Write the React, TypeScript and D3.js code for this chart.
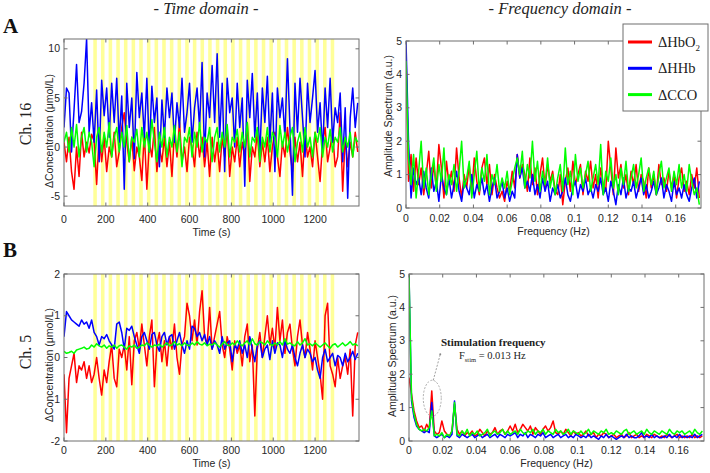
import React from 'react';
import * as d3 from 'd3';

// ---------- DATA ----------
const timeStep = 12; // s
const freqStep = 0.0015; // Hz
const timeTicks = [0, 200, 400, 600, 800, 1000, 1200];
const freqTicks = [0, 0.02, 0.04, 0.06, 0.08, 0.1, 0.12, 0.14, 0.16];
const yTicksTimeA = [-5, 0, 5, 10];
const yTicksTimeB = [-2, -1, 0, 1, 2];
const yTicksFreq = [0, 1, 2, 3, 4, 5];

// stimulation blocks (s)
const stimOnset = 140;
const stimPeriod = 36.6;
const stimDuration = 17;
const stimCount = 32;

// Ch.16 time domain
const hbo2TimeA = [
  0.5, -1.5, 1.0, -2.5, -4.3, 0.0, -3.0, 1.5, -1.0, 0.5,
  -0.6, 1.3, 0.6, -3.8, 1.2, -1.5, 1.0, -2.5, 0.0, -1.0,
  1.5, -2.0, -0.5, 2.0, 3.5, 0.5, -1.5, 1.0, -2.4, 0.0,
  -1.0, -3.4, 1.5, -4.3, 0.5, -1.0, 2.0, -2.5, 0.0, -1.5,
  1.0, -2.0, 0.5, -3.0, 1.5, -1.0, 2.5, -1.5, 0.0, -2.5,
  1.0, 0.0, -2.0, 1.5, -1.0, 1.0, -2.0, 0.5, -3.0, 1.0,
  -1.5, 0.5, -2.5, 1.0, -1.0, 2.0, -3.0, 0.0, -1.5, 1.0,
  -2.0, 0.5, -1.0, 2.5, -3.5, 0.0, -1.0, 1.5, -2.0, 0.5,
  -1.5, 1.0, -2.5, 0.0, 1.5, -1.0, -3.0, 0.5, -1.0, 2.0,
  -0.5, -2.5, 1.0, -1.5, 0.5, -3.0, 1.5, -1.0, 0.0, -2.0,
  1.5, -1.0, -3.5, 0.5, 2.0, -1.5, 0.0, 1.5, -2.0, -1.0,
  3.5, -4.5, 1.0, -2.0, 0.5, -1.0, 1.5, -0.5,
];
const hhbTimeA = [
  2.0, 6.0, 5.5, -0.5, 3.8, 8.4, 2.5, 3.6, 6.5, 11.0,
  1.5, 4.5, 0.5, 5.8, -1.5, 6.8, 3.2, 6.0, 1.0, 6.5,
  2.5, 7.0, 0.5, 5.2, -4.3, 6.5, 2.0, 5.0, -1.2, 7.6,
  3.0, 5.5, 1.0, 7.0, -0.5, 6.2, 2.5, 5.0, -2.0, 4.8,
  1.0, 6.0, 3.0, 5.5, 0.5, 4.5, 2.0, 7.0, 1.5, 3.5,
  6.5, 0.5, 4.0, 6.0, 2.0, 8.6, -1.0, 5.5, 3.0, 8.3,
  2.5, 9.5, 1.0, 6.5, -2.5, 7.0, 3.5, 5.0, 0.0, 6.5,
  2.0, 5.0, -4.0, 6.8, 3.0, 7.5, 1.0, 5.5, -1.0, 6.0,
  2.5, 7.2, 0.5, 5.5, -2.5, 6.0, 3.0, 5.0, 1.0, 9.0,
  2.0, -4.9, 6.5, 1.5, 7.0, 3.0, -1.0, 6.5, 2.5, 5.0,
  7.8, 1.5, 4.5, -0.5, 6.0, 2.0, 7.0, 0.5, 4.0, 2.5,
  5.5, -1.5, 4.0, -5.2, 3.0, 6.0, 2.0, 4.5,
];
const ccoTimeA = [
  0.5, 1.5, -0.5, 2.0, 0.0, 2.3, -1.0, 1.0, 2.0, -0.5,
  1.5, 0.5, -2.0, 1.0, 2.0, -0.5, 1.5, 0.0, 2.5, -1.0,
  1.0, 2.0, -0.5, 1.5, 0.0, 2.2, -1.5, 1.0, 0.5, 1.8,
  -1.0, 2.0, 0.0, 1.5, -0.5, 2.8, 0.5, -1.5, 1.5, 0.0,
  2.0, -1.0, 1.0, 0.0, 2.2, -0.5, 1.5, -2.0, 1.0, 0.5,
  2.0, -1.0, 1.5, 0.0, 2.5, -0.5, 1.0, 0.5, 2.0, -1.5,
  1.0, 2.0, -0.5, 1.5, 0.0, 2.3, -1.0, 1.0, 0.5, 1.8,
  -0.5, 1.5, 0.0, 2.5, -1.0, 1.0, 0.5, 2.0, -1.5, 1.0,
  0.0, 2.0, -0.5, 1.5, 1.0, -1.0, 2.2, 0.0, 1.5, -0.5,
  1.0, 2.0, -1.5, 0.5, 1.5, -0.5, 2.0, 0.0, 1.0, -1.0,
  1.5, 0.5, 2.0, -1.0, 1.0, 0.0, 1.8, -0.5, 1.0, 0.5,
  2.0, -0.5, 1.0, 0.0, 1.5, -1.0, 1.0, 0.5,
];

// Ch.5 time domain
const hbo2TimeB = [
  -0.4, -1.8, -0.5, -0.2, 0.1, -0.6, -0.2, -0.3, -0.1, -0.5,
  -0.2, -0.6, -0.4, 0.0, -0.5, -0.9, -0.3, -0.6, -0.1, 0.3,
  -0.5, -0.7, 0.2, 0.0, 0.3, -0.3, 0.5, -0.65, 0.4, 0.6,
  0.2, 0.8, 0.3, -0.2, 0.5, 0.9, -0.7, 0.3, 0.6, -0.1,
  0.4, -0.2, 0.5, 0.2, 0.8, 0.0, -0.4, 0.3, 0.5, 1.3,
  1.0, 0.4, 0.9, 0.3, 1.1, 1.6, 0.5, 0.3, 1.2, 0.2,
  0.5, 0.8, 1.1, 0.3, 0.0, 0.5, 0.2, -0.3, 0.4, 0.1,
  0.3, -0.2, 0.5, 0.8, -0.1, 0.3, -1.4, 0.2, 0.6, 0.0,
  0.5, 1.0, 0.3, 0.7, 0.2, 1.2, 0.4, 0.9, 0.1, 0.6,
  0.8, 0.2, -0.2, 0.5, 0.9, 0.3, 0.0, 0.6, 0.2, -0.3,
  0.4, 0.0, -0.4, -1.0, 1.0, 1.3, -0.2, -0.4, -0.7, 0.0,
  -0.5, -0.2, 0.0, -0.4, 0.2, -1.4, 0.3, 0.6,
];
const hhbTimeB = [
  0.5, 1.1, 1.0, 0.9, 0.85, 0.8, 0.75, 0.9, 0.8, 0.85,
  0.7, 0.9, 0.6, 0.5, 0.3, 0.5, 0.45, 0.55, 0.4, 0.3,
  0.2, 0.8, 0.85, 0.6, 0.2, 0.7, 0.65, 0.75, 0.5, 0.3,
  0.1, 0.5, 0.6, 0.4, 0.2, 0.55, 0.6, 0.3, 0.15, 0.5,
  0.6, 0.3, 0.5, 0.55, 0.2, 0.4, 0.6, 0.3, 0.1, 0.4,
  0.2, 0.75, 0.7, 0.5, 0.6, 0.4, 0.55, 0.3, 0.5, 0.2,
  0.4, 0.3, 0.1, 0.5, 0.2, 0.35, 0.4, -0.1, 0.3, 0.2,
  0.4, 0.1, 0.3, 0.0, 0.5, 0.2, -0.1, 0.3, 0.4, 0.0,
  0.2, 0.3, -0.05, 0.4, 0.1, 0.35, 0.3, 0.0, 0.4, 0.2,
  0.1, 0.3, 0.0, -0.2, 0.1, 0.3, 0.0, 0.2, 0.1, -0.1,
  0.0, -0.3, -0.5, 0.0, 0.2, -0.1, 0.0, 0.1, -0.2, 0.05,
  0.0, -0.2, 0.1, -0.1, 0.0, 0.15, -0.05, 0.1,
];
const ccoTimeB = [
  0.15, 0.1, 0.12, 0.15, 0.1, 0.18, 0.2, 0.22, 0.25, 0.2,
  0.22, 0.3, 0.25, 0.33, 0.28, 0.25, 0.3, 0.22, 0.28, 0.25,
  0.3, 0.22, 0.28, 0.3, 0.25, 0.2, 0.28, 0.25, 0.3, 0.22,
  0.25, 0.3, 0.28, 0.35, 0.3, 0.25, 0.3, 0.28, 0.32, 0.25,
  0.3, 0.35, 0.28, 0.3, 0.38, 0.3, 0.33, 0.28, 0.35, 0.3,
  0.28, 0.35, 0.3, 0.38, 0.32, 0.3, 0.35, 0.28, 0.32, 0.3,
  0.35, 0.3, 0.25, 0.32, 0.38, 0.3, 0.28, 0.35, 0.3, 0.4,
  0.32, 0.28, 0.35, 0.4, 0.3, 0.45, 0.33, 0.3, 0.38, 0.35,
  0.3, 0.4, 0.33, 0.28, 0.35, 0.3, 0.38, 0.3, 0.45, 0.32,
  0.35, 0.3, 0.28, 0.38, 0.3, 0.35, 0.45, 0.3, 0.33, 0.28,
  0.35, 0.3, 0.25, 0.3, 0.35, 0.28, 0.22, 0.3, 0.33, 0.25,
  0.3, 0.35, 0.28, 0.32, 0.38, 0.3, 0.33, 0.28,
];

// Ch.16 frequency domain
const hbo2FreqA = [
  4.7, 0.8, 1.6, 0.5, 1.5, 0.7, 1.2, 0.4, 1.0, 1.7,
  0.6, 1.3, 0.6, 1.9, 1.2, 0.3, 1.4, 0.7, 1.1, 0.5,
  1.8, 0.9, 0.3, 1.0, 0.6, 1.3, 0.5, 1.5, 0.8, 0.4,
  1.2, 1.5, 0.7, 1.3, 0.4, 1.0, 0.6, 0.3, 0.5, 0.2,
  0.8, 0.5, 1.1, 0.6, 1.6, 0.9, 1.3, 1.0, 0.5, 1.5,
  0.7, 1.2, 0.4, 1.0, 1.5, 0.6, 1.3, 0.8, 1.1, 0.5,
  0.4, 1.0, 0.1, 0.8, 1.2, 0.5, 1.4, 0.7, 1.0, 1.3,
  0.4, 1.1, 0.8, 1.4, 0.6, 1.0, 0.3, 1.2, 0.7, 0.5,
  2.0, 1.2, 0.4, 1.8, 0.9, 1.3, 0.6, 1.0, 0.4, 1.1,
  0.7, 1.3, 0.5, 1.0, 0.8, 0.3, 1.2, 0.6, 1.0, 0.4,
  1.3, 0.7, 0.9, 0.5, 1.1, 0.6, 1.0, 0.3, 0.9, 1.2,
  0.5, 0.8, 0.4, 1.0, 0.6, 1.2, 0.3,
];
const hhbFreqA = [
  5.0, 2.0, 0.3, 1.2, 0.7, 0.9, 0.4, 1.1, 0.6, 0.3,
  1.2, 0.5, 0.8, 0.2, 1.0, 0.6, 0.4, 0.9, 0.3, 0.7,
  1.1, 0.5, 0.2, 0.8, 0.6, 0.4, 1.0, 0.3, 0.7, 0.5,
  0.9, 0.4, 0.7, 0.2, 0.6, 0.9, 0.3, 0.5, 0.8, 0.3,
  0.6, 0.2, 0.5, 0.3, 1.6, 0.9, 1.2, 0.6, 0.8, 0.5,
  1.0, 0.4, 0.7, 0.3, 0.9, 0.5, 0.8, 0.2, 0.6, 0.4,
  0.7, 0.3, 0.5, 0.9, 0.4, 0.2, 0.6, 0.8, 0.3, 0.7,
  0.5, 0.9, 0.4, 0.6, 0.3, 0.7, 0.5, 0.9, 0.4, 0.6,
  0.2, 0.8, 0.5, 0.1, 0.7, 0.4, 0.9, 0.3, 0.6, 0.5,
  0.8, 0.3, 0.6, 0.9, 0.4, 0.7, 0.3, 0.5, 0.8, 0.4,
  0.6, 0.9, 0.3, 0.7, 0.5, 0.2, 0.8, 0.4, 0.6, 0.3,
  0.7, 0.4, 0.2, 0.6, 0.9, 0.3, 0.8,
];
const ccoFreqA = [
  4.4, 1.5, 0.7, 1.6, 0.3, 1.1, 2.0, 0.6, 1.2, 0.4,
  1.0, 1.5, 0.5, 1.3, 0.8, 1.8, 0.4, 1.0, 0.7, 1.3,
  0.5, 1.1, 2.0, 0.6, 0.9, 1.4, 0.3, 1.0, 1.7, 0.5,
  1.2, 0.8, 1.6, 0.4, 1.0, 0.7, 1.3, 0.5, 0.9, 0.6,
  1.1, 0.4, 0.8, 1.2, 1.5, 1.0, 1.7, 0.6, 1.3, 0.9,
  2.0, 0.8, 1.4, 0.5, 1.1, 0.7, 1.5, 0.6, 1.0, 0.4,
  0.9, 1.3, 0.5, 1.8, 0.7, 1.1, 0.4, 1.6, 0.8, 1.2,
  0.6, 1.0, 1.4, 0.5, 0.9, 1.3, 0.7, 1.9, 0.4, 1.1,
  0.8, 1.5, 0.6, 1.0, 0.4, 1.2, 0.7, 1.4, 0.5, 0.9,
  1.3, 0.6, 1.0, 1.5, 0.5, 0.9, 1.2, 0.7, 1.1, 0.4,
  1.0, 1.4, 0.6, 0.9, 1.2, 0.5, 1.1, 0.7, 1.3, 0.6,
  1.0, 0.5, 1.3, 0.8, 0.4, 0.6, 0.1,
];

// Ch.5 frequency domain
const hbo2FreqB = [
  1.9, 1.4, 0.9, 0.6, 0.4, 0.45, 0.3, 0.5, 0.35, 1.5,
  0.3, 0.2, 0.25, 0.6, 0.3, 0.2, 0.15, 0.3, 1.1, 0.35,
  0.2, 0.3, 0.15, 0.25, 0.2, 0.3, 0.15, 0.2, 0.35, 0.25,
  0.15, 0.3, 0.2, 0.25, 0.4, 0.2, 0.3, 0.35, 0.2, 0.3,
  0.45, 0.3, 0.5, 0.25, 0.35, 0.5, 0.4, 0.3, 0.45, 0.2,
  0.4, 0.3, 0.2, 0.35, 0.45, 0.3, 0.4, 0.6, 0.25, 0.2,
  0.3, 0.2, 0.35, 0.25, 0.15, 0.3, 0.2, 0.25, 0.15, 0.2,
  0.3, 0.15, 0.2, 0.25, 0.1, 0.2, 0.15, 0.25, 0.2, 0.1,
  0.15, 0.2, 0.1, 0.15, 0.2, 0.1, 0.15, 0.25, 0.1, 0.15,
  0.2, 0.1, 0.15, 0.1, 0.2, 0.15, 0.1, 0.2, 0.15, 0.1,
  0.15, 0.1, 0.2, 0.15, 0.1, 0.15, 0.2, 0.1, 0.15, 0.1,
  0.15, 0.1, 0.2, 0.1, 0.15, 0.1, 0.15,
];
const hhbFreqB = [
  5.0, 1.2, 0.7, 0.45, 0.35, 0.3, 0.25, 0.3, 0.25, 1.15,
  0.15, 0.1, 0.15, 0.2, 0.1, 0.15, 0.1, 0.2, 1.2, 0.15,
  0.1, 0.2, 0.15, 0.1, 0.15, 0.2, 0.1, 0.15, 0.2, 0.1,
  0.15, 0.2, 0.1, 0.15, 0.2, 0.1, 0.2, 0.15, 0.1, 0.2,
  0.15, 0.2, 0.25, 0.1, 0.2, 0.15, 0.25, 0.1, 0.2, 0.15,
  0.1, 0.2, 0.15, 0.25, 0.1, 0.15, 0.2, 0.1, 0.15, 0.2,
  0.1, 0.15, 0.2, 0.1, 0.15, 0.1, 0.2, 0.15, 0.1, 0.15,
  0.1, 0.2, 0.1, 0.15, 0.1, 0.05, 0.15, 0.1, 0.2, 0.1,
  0.15, 0.1, 0.05, 0.1, 0.15, 0.1, 0.2, 0.1, 0.15, 0.1,
  0.1, 0.15, 0.25, 0.1, 0.15, 0.1, 0.2, 0.1, 0.15, 0.1,
  0.1, 0.15, 0.1, 0.2, 0.1, 0.15, 0.1, 0.2, 0.1, 0.15,
  0.1, 0.15, 0.1, 0.2, 0.1, 0.15, 0.2,
];
const ccoFreqB = [
  5.0, 1.3, 0.8, 0.5, 0.35, 0.3, 0.35, 0.3, 0.4, 0.9,
  0.15, 0.2, 0.15, 0.25, 0.1, 0.2, 0.15, 0.3, 1.15, 0.2,
  0.15, 0.3, 0.2, 0.35, 0.15, 0.25, 0.2, 0.3, 0.15, 0.2,
  0.25, 0.35, 0.15, 0.25, 0.3, 0.2, 0.25, 0.35, 0.2, 0.3,
  0.2, 0.25, 0.3, 0.2, 0.35, 0.25, 0.2, 0.3, 0.25, 0.35,
  0.2, 0.3, 0.25, 0.35, 0.2, 0.3, 0.25, 0.2, 0.35, 0.25,
  0.3, 0.2, 0.25, 0.35, 0.2, 0.3, 0.25, 0.2, 0.3, 0.2,
  0.25, 0.35, 0.2, 0.3, 0.25, 0.2, 0.3, 0.25, 0.35, 0.2,
  0.25, 0.2, 0.3, 0.25, 0.2, 0.3, 0.35, 0.2, 0.25, 0.3,
  0.2, 0.25, 0.3, 0.2, 0.35, 0.25, 0.2, 0.3, 0.25, 0.2,
  0.3, 0.25, 0.2, 0.35, 0.25, 0.2, 0.3, 0.25, 0.3, 0.2,
  0.25, 0.3, 0.2, 0.35, 0.25, 0.2, 0.3,
];

const seriesNames = ['ΔHbO', 'ΔHHb', 'ΔCCO'];
const seriesColors = ['#ff0000', '#0000ff', '#00ff00'];

// ---------- DRAWING ----------
const SANS = "'Liberation Sans', Arial, sans-serif";
const SERIF = "'Liberation Serif', 'Times New Roman', serif";
const FRAME = '#6e6e6e';
const TXT = '#262626';

type PanelProps = {
  id: string;
  left: number; right: number; top: number; bottom: number;
  xDomain: [number, number]; yDomain: [number, number];
  xTicks: number[]; yTicks: number[];
  step: number;
  series: number[][];
  xLabel: string; yLabel: string;
  yLabelY: number; yLabelX: number;
  tickBaseline: number; xLabelBaseline: number;
  stim?: boolean;
  children?: (x: d3.ScaleLinear<number, number>, y: d3.ScaleLinear<number, number>) => React.ReactNode;
};

function Panel(p: PanelProps) {
  const x = d3.scaleLinear().domain(p.xDomain).range([p.left, p.right]);
  const y = d3.scaleLinear().domain(p.yDomain).range([p.bottom, p.top]);
  const line = d3.line<number>().x((_, i) => x(i * p.step)).y((d) => y(d));
  const tl = 3.5;
  const stimStarts = d3.range(stimCount).map((k) => stimOnset + k * stimPeriod);
  return (
    <g>
      <defs>
        <clipPath id={`clip-${p.id}`}>
          <rect x={p.left} y={p.top} width={p.right - p.left} height={p.bottom - p.top} />
        </clipPath>
      </defs>
      <rect x={p.left} y={p.top} width={p.right - p.left} height={p.bottom - p.top} fill="#fff" />
      {p.stim &&
        stimStarts.map((s, i) => (
          <rect key={i} x={x(s)} y={p.top} width={x(s + stimDuration) - x(s)} height={p.bottom - p.top} fill="#ffff99" />
        ))}
      <g clipPath={`url(#clip-${p.id})`}>
        {p.series.map((s, i) => (
          <path key={i} d={line(s) || ''} fill="none" stroke={seriesColors[i]} strokeWidth={1.5} strokeLinejoin="round" />
        ))}
      </g>
      {p.children && p.children(x, y)}
      {/* frame */}
      <rect x={p.left} y={p.top} width={p.right - p.left} height={p.bottom - p.top} fill="none" stroke={FRAME} strokeWidth={1} />
      {p.xTicks.map((t) => (
        <g key={'x' + t}>
          <line x1={x(t)} x2={x(t)} y1={p.bottom} y2={p.bottom - tl} stroke={FRAME} />
          <line x1={x(t)} x2={x(t)} y1={p.top} y2={p.top + tl} stroke={FRAME} />
          <text x={x(t)} y={p.tickBaseline} textAnchor="middle" fontFamily={SANS} fontSize={10.5} fill={TXT}>
            {String(t)}
          </text>
        </g>
      ))}
      {p.yTicks.map((t) => (
        <g key={'y' + t}>
          <line x1={p.left} x2={p.left + tl} y1={y(t)} y2={y(t)} stroke={FRAME} />
          <line x1={p.right} x2={p.right - tl} y1={y(t)} y2={y(t)} stroke={FRAME} />
          <text x={p.left - 4} y={y(t)} dy="0.35em" textAnchor="end" fontFamily={SANS} fontSize={10.5} fill={TXT}>
            {String(t)}
          </text>
        </g>
      ))}
      <text x={(p.left + p.right) / 2} y={p.xLabelBaseline} textAnchor="middle" fontFamily={SANS} fontSize={10.5} fill={TXT}>
        {p.xLabel}
      </text>
      <text
        transform={`translate(${p.yLabelX},${p.yLabelY}) rotate(-90)`}
        textAnchor="middle"
        dy="0.35em"
        fontFamily={SANS}
        fontSize={10.5}
        fill={TXT}
      >
        {p.yLabel}
      </text>
    </g>
  );
}

export default function App() {
  const timeDomain: [number, number] = [0, 1410];
  const freqDomain: [number, number] = [0, 0.175];
  return (
    <svg width={710} height={473} style={{ position: 'absolute', left: 0, top: 0, background: '#fff' }}>
      <rect width={710} height={473} fill="#fff" />
      {/* headers */}
      <text x={206} y={14} textAnchor="middle" fontFamily={SERIF} fontStyle="italic" fontSize={16.5} fill="#222">
        - Time domain -
      </text>
      <text x={560} y={14} textAnchor="middle" fontFamily={SERIF} fontStyle="italic" fontSize={16.5} fill="#222">
        - Frequency domain -
      </text>
      <text x={3} y={33} fontFamily={SERIF} fontWeight="bold" fontSize={21} fill="#111">A</text>
      <text x={3} y={257} fontFamily={SERIF} fontWeight="bold" fontSize={21} fill="#111">B</text>
      <text transform="translate(25,124) rotate(-90)" textAnchor="middle" dy="0.35em" fontFamily={SERIF} fontSize={16} fill="#222">
        Ch. 16
      </text>
      <text transform="translate(25,352) rotate(-90)" textAnchor="middle" dy="0.35em" fontFamily={SERIF} fontSize={16} fill="#222">
        Ch. 5
      </text>

      <Panel
        id="ta" left={64} right={359} top={39} bottom={206}
        xDomain={timeDomain} yDomain={[-6, 11]}
        xTicks={timeTicks} yTicks={yTicksTimeA} step={timeStep}
        series={[hbo2TimeA, hhbTimeA, ccoTimeA]}
        xLabel="Time (s)" yLabel="ΔConcentration (μmol/L)"
        yLabelX={49} yLabelY={131}
        tickBaseline={223} xLabelBaseline={236} stim
      />
      <Panel
        id="fa" left={406} right={701} top={41} bottom={208}
        xDomain={freqDomain} yDomain={[0, 5]}
        xTicks={freqTicks} yTicks={yTicksFreq} step={freqStep}
        series={[hbo2FreqA, hhbFreqA, ccoFreqA]}
        xLabel="Frequency (Hz)" yLabel="Amplitude Spectrum (a.u.)"
        yLabelX={388} yLabelY={116}
        tickBaseline={222} xLabelBaseline={235}
      />
      <Panel
        id="tb" left={64} right={359} top={274} bottom={441}
        xDomain={timeDomain} yDomain={[-2, 2]}
        xTicks={timeTicks} yTicks={yTicksTimeB} step={timeStep}
        series={[hbo2TimeB, hhbTimeB, ccoTimeB]}
        xLabel="Time (s)" yLabel="ΔConcentration (μmol/L)"
        yLabelX={49} yLabelY={365}
        tickBaseline={454} xLabelBaseline={467} stim
      />
      <Panel
        id="fb" left={409} right={704} top={274} bottom={441}
        xDomain={freqDomain} yDomain={[0, 5]}
        xTicks={freqTicks} yTicks={yTicksFreq} step={freqStep}
        series={[hbo2FreqB, hhbFreqB, ccoFreqB]}
        xLabel="Frequency (Hz)" yLabel="Amplitude Spectrum (a.u.)"
        yLabelX={392} yLabelY={356}
        tickBaseline={454} xLabelBaseline={467}
      >
        {(x, y) => {
          const cx = x(0.0138);
          const cy = y(1.28);
          return (
            <g>
              <ellipse cx={cx} cy={cy} rx={9} ry={18} fill="none" stroke="#999" strokeWidth={0.8} strokeDasharray="2,1.5" />
              <line x1={cx + 1} y1={cy - 18} x2={cx + 8} y2={cy - 44} stroke="#888" strokeWidth={0.8} strokeDasharray="2,1.5" />
              <circle cx={cx + 8} cy={cy - 44} r={1} fill="#888" />
              <text x={441} y={346} fontFamily={SERIF} fontWeight="bold" fontSize={11} fill="#222">
                Stimulation frequency
              </text>
              <text x={459} y={359} fontFamily={SERIF} fontSize={10.5} fill="#222">
                F<tspan fontSize={6.5} dy={2.5}>stim</tspan>
                <tspan dy={-2.5}> = 0.013 Hz</tspan>
              </text>
            </g>
          );
        }}
      </Panel>

      {/* legend */}
      <rect x={623} y={24} width={85} height={87} fill="#fff" stroke={FRAME} strokeWidth={1} />
      {seriesNames.map((n, i) => (
        <g key={n}>
          <line x1={628} x2={652} y1={42 + i * 26.3} y2={42 + i * 26.3} stroke={seriesColors[i]} strokeWidth={3} />
          <text x={658} y={42 + i * 26.3} dy="0.35em" fontFamily={SERIF} fontSize={14.5} fill="#222">
            {n}
            {i === 0 && <tspan fontSize={9} dy={4}>2</tspan>}
          </text>
        </g>
      ))}
    </svg>
  );
}
